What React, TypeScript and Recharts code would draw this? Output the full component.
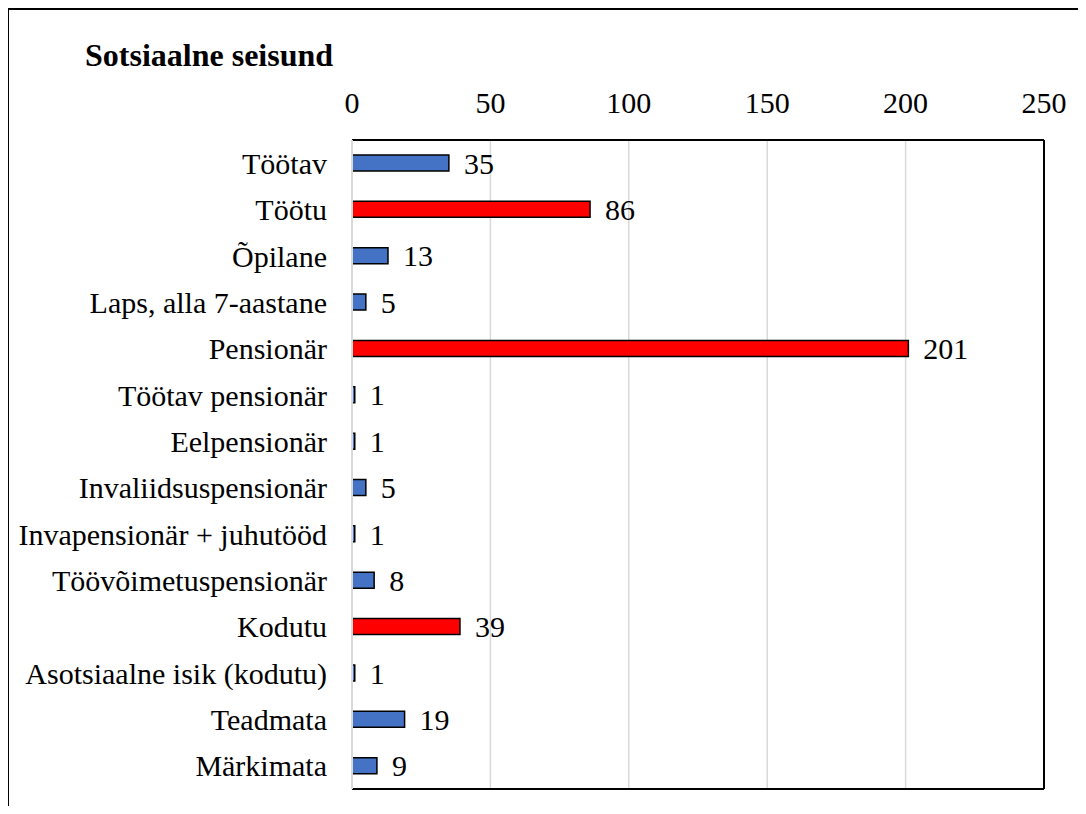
import { Bar, BarChart, CartesianGrid, Cell, LabelList, ReferenceLine, XAxis, YAxis } from "recharts";

const categories = [
  "Töötav",
  "Töötu",
  "Õpilane",
  "Laps, alla 7-aastane",
  "Pensionär",
  "Töötav pensionär",
  "Eelpensionär",
  "Invaliidsuspensionär",
  "Invapensionär + juhutööd",
  "Töövõimetuspensionär",
  "Kodutu",
  "Asotsiaalne isik (kodutu)",
  "Teadmata",
  "Märkimata",
];
const counts = [35, 86, 13, 5, 201, 1, 1, 5, 1, 8, 39, 1, 19, 9];
const highlighted = ["Töötu", "Pensionär", "Kodutu"];
const xTicks = [0, 50, 100, 150, 200, 250];

const FONT = "Liberation Serif";
const BLUE = "#4472C4";
const RED = "#FF0000";

const data = categories.map((name, i) => ({ name, value: counts[i] }));

// top and bottom edge of the plot box
const boxEdges = ({ offset }: any) => [offset.top, offset.top + offset.height];

export default function App() {
  return (
    <div style={{ position: "relative", width: 1070, height: 798, fontFamily: FONT }}>
      {/* outer frame, only top + left visible in the crop */}
      <div
        style={{
          position: "absolute",
          left: -1,
          top: 0,
          width: 1079,
          height: 806,
          borderTop: "2px solid #000",
          borderLeft: "2px solid #000",
          boxSizing: "border-box",
          pointerEvents: "none",
        }}
      />
      <div
        style={{
          position: "absolute",
          left: 77,
          top: 32,
          fontSize: 32,
          lineHeight: "31px",
          fontWeight: "bold",
          color: "#000",
        }}
      >
        Sotsiaalne seisund
      </div>
      <BarChart
        width={1070}
        height={798}
        data={data}
        layout="vertical"
        margin={{ top: 82, right: 34, bottom: 17, left: 0 }}
        style={{ fontFamily: FONT }}
      >
        <CartesianGrid horizontal={false} stroke="#d9d9d9" strokeWidth={1.5} />
        <CartesianGrid
          vertical={false}
          horizontalCoordinatesGenerator={boxEdges}
          stroke="#000"
          strokeWidth={2}
        />
        <XAxis
          type="number"
          orientation="top"
          domain={[0, 250]}
          ticks={xTicks}
          height={50}
          tickSize={0}
          tickMargin={27}
          tickLine={false}
          axisLine={false}
          tick={{ fill: "#000", fontSize: 30, fontFamily: FONT }}
        />
        <YAxis
          type="category"
          dataKey="name"
          width={344}
          interval={0}
          tickSize={0}
          tickMargin={25}
          tickLine={false}
          axisLine={{ stroke: "#d9d9d9", strokeWidth: 2 }}
          tick={{ fill: "#000", fontSize: 30, fontFamily: FONT }}
        />
        <ReferenceLine x={250} stroke="#000" strokeWidth={2} />
        <Bar dataKey="value" barSize={16} stroke="#000" strokeWidth={1.5} isAnimationActive={false}>
          {data.map((d) => (
            <Cell key={d.name} fill={highlighted.includes(d.name) ? RED : BLUE} />
          ))}
          <LabelList
            dataKey="value"
            position="right"
            offset={15}
            fill="#000"
            fontSize={30}
            fontFamily={FONT}
            style={{ fontFamily: FONT }}
          />
        </Bar>
      </BarChart>
    </div>
  );
}
